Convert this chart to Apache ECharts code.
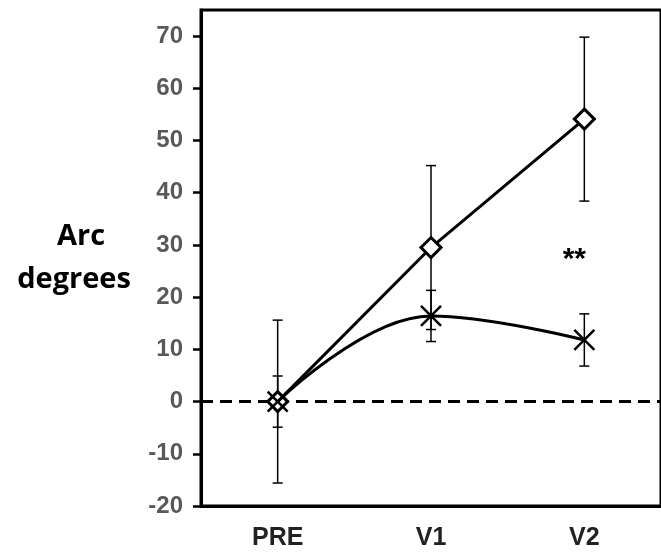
<!DOCTYPE html>
<html>
<head>
<meta charset="utf-8">
<script src="https://cdn.jsdelivr.net/npm/echarts@6/dist/echarts.min.js"></script>
<style>html,body{margin:0;padding:0;background:#fff;}#c{width:661px;height:553px;}</style>
</head>
<body>
<div id="c"></div>
<script>
const categories = ['PRE', 'V1', 'V2'];
const diamondMeans = [0, 29.5, 54.1];
const diamondErr = [15.6, 15.7, 15.7];
const crossMeans = [0, 16.4, 11.8];
const crossErr = [4.9, 4.9, 5.0];
const yTicks = [-20, -10, 0, 10, 20, 30, 40, 50, 60, 70];
const titleLines = ['Arc', 'degrees'];
const sigLabel = '**';
const sigAt = ['V2', 27.8];

const diamondBars = diamondMeans.map((m, i) => [i, m - diamondErr[i], m + diamondErr[i]]);
const crossBars = crossMeans.map((m, i) => [i, m - crossErr[i], m + crossErr[i]]);

function errRender(params, api) {
  const x = api.value(0);
  const lo = api.coord([x, api.value(1)]);
  const hi = api.coord([x, api.value(2)]);
  const w = 5;
  const style = { stroke: '#000', lineWidth: 1.5 };
  return {
    type: 'group',
    children: [
      { type: 'line', shape: { x1: lo[0], y1: lo[1], x2: hi[0], y2: hi[1] }, style },
      { type: 'line', shape: { x1: lo[0] - w, y1: lo[1], x2: lo[0] + w, y2: lo[1] }, style },
      { type: 'line', shape: { x1: hi[0] - w, y1: hi[1], x2: hi[0] + w, y2: hi[1] }, style }
    ]
  };
}

const chart = echarts.init(document.getElementById('c'));
chart.setOption({
  animation: false,
  grid: { left: 201, top: 10, right: -6, bottom: 47, show: true, borderColor: '#000', borderWidth: 3, backgroundColor: 'transparent' },
  xAxis: {
    type: 'category',
    data: categories,
    boundaryGap: true,
    axisLine: { onZero: false, lineStyle: { color: '#000', width: 3 } },
    axisTick: { show: false },
    axisLabel: { color: '#222', fontSize: 25, fontWeight: 'bold', fontFamily: 'Liberation Sans, Arial', margin: 20 }
  },
  yAxis: {
    type: 'value',
    min: -20,
    max: 75,
    interval: 10,
    splitLine: { show: false },
    axisLine: { show: true, lineStyle: { color: '#000', width: 3 } },
    axisTick: { show: true, length: 8, customValues: yTicks, lineStyle: { color: '#000', width: 2.5 } },
    axisLabel: { customValues: yTicks, color: '#595959', fontSize: 24, fontWeight: 'bold', fontFamily: 'Liberation Sans, Arial', margin: 18 }
  },
  graphic: [
    {
      type: 'text',
      x: 81, y: 237,
      style: { text: titleLines[0], fill: '#000', font: 'bold 29px "Open Sans"', align: 'center', verticalAlign: 'middle', letterSpacing: 1.5 }
    },
    {
      type: 'text',
      x: 74, y: 280,
      style: { text: titleLines[1], fill: '#000', font: 'bold 29px "Open Sans"', align: 'center', verticalAlign: 'middle' }
    }
  ],
  series: [
    {
      type: 'line',
      data: diamondMeans,
      symbol: 'diamond',
      symbolSize: 20,
      lineStyle: { color: '#000', width: 3 },
      itemStyle: { color: '#fff', borderColor: '#000', borderWidth: 3 },
      z: 5,
      markLine: {
        silent: true,
        symbol: 'none',
        label: { show: false },
        lineStyle: { color: '#000', width: 3, type: [12, 7] },
        data: [{ yAxis: 0 }]
      },
      markPoint: {
        symbol: 'circle',
        symbolSize: 0,
        label: { show: true, formatter: sigLabel, color: '#000', fontSize: 30, fontWeight: 'bold', offset: [-10, 3], fontFamily: 'Liberation Sans, Arial' },
        data: [{ coord: sigAt }]
      }
    },
    {
      type: 'line',
      data: crossMeans,
      smooth: 0.4,
      symbol: 'path://M0,0L10,10M10,0L0,10',
      symbolSize: 20,
      lineStyle: { color: '#000', width: 3 },
      itemStyle: { color: 'transparent', borderColor: '#000', borderWidth: 2.5 },
      z: 6
    },
    { type: 'custom', renderItem: errRender, data: diamondBars, z: 4 },
    { type: 'custom', renderItem: errRender, data: crossBars, z: 4 }
  ]
});
</script>
</body>
</html>
